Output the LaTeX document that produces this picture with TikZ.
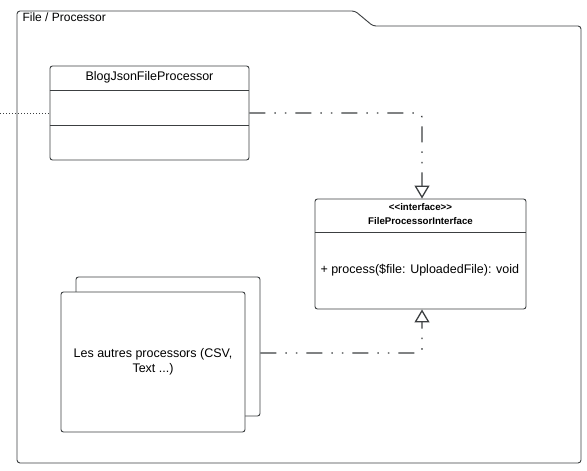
\documentclass[tikz,border=0pt]{standalone}
\usepackage{fontspec}
\setmainfont{Liberation Sans}
\usetikzlibrary{arrows.meta}
\definecolor{umlline}{HTML}{3C3F41}
\tikzset{
  umlbox/.style={draw=umlline, line width=0.9pt, rounded corners=2.5pt, fill=white, inner sep=0pt},
  divider/.style={draw=umlline, line width=0.9pt},
  realize/.style={draw=umlline, line width=1.3pt, rounded corners=4pt,
    dash pattern=on 16pt off 9pt on 1.5pt off 9pt on 1.5pt off 9pt,
    -{Triangle[open, width=15pt, length=13pt, line width=1.3pt, sharp]}},
  assoc/.style={draw=umlline, line width=1pt, dotted},
  txt/.style={font=\fontsize{12.5}{14.5}\selectfont, text=black},
}
\begin{document}
\begin{tikzpicture}[x=1pt, y=-1pt]
  \useasboundingbox (0,0) rectangle (587,471);

  % package frame with its tab
  \draw[umlline, line width=0.9pt, rounded corners=3pt]
    (17,463) -- (17,11) -- (355,11) -- (373,26) -- (581,26) -- (581,463) -- cycle;
  \node[font=\fontsize{12}{14}\selectfont, anchor=west] (pkg) at (19,17.5) {File / Processor};

  % concrete class
  \node[umlbox, minimum width=199pt, minimum height=94pt] (blog) at (149.5,113) {};
  \node[txt] (blogname) at (149.5,77.5) {BlogJsonFileProcessor};
  \draw[divider] (blog.west |- 0,90) -- (blog.east |- 0,90);
  \draw[divider] (blog.west |- 0,125) -- (blog.east |- 0,125);

  % interface (kerns keep << and >> from turning into guillemets)
  \node[umlbox, minimum width=211pt, minimum height=110pt] (iface) at (420.5,254) {};
  \node[font=\bfseries\fontsize{9.7}{13.5}\selectfont, align=center] (ifname) at (420.5,214)
    {<\kern0pt<interface>\kern0pt>\\FileProcessorInterface};
  \draw[divider] (iface.west |- 0,232) -- (iface.east |- 0,232);
  \node[txt, anchor=west] (op) at (317,270) {+ process(\$file: UploadedFile): void};

  % stacked placeholder for the other processors
  \node[umlbox, minimum width=184pt, minimum height=139pt] (back) at (168,346.5) {};
  \node[umlbox, minimum width=184pt, minimum height=140pt, txt, align=center] (front) at (153,362)
    {Les autres processors (CSV,\\Text ...)};

  % incoming association from outside the package
  \coordinate (outside) at (0,113);
  \draw[assoc] (outside) -- (blog.west);

  % realizations
  \draw[realize] (blog.east) -| ([xshift=1.5pt]iface.north);
  \draw[realize] ([yshift=-6.5pt]back.east) -| ([xshift=1.5pt]iface.south);
\end{tikzpicture}
\end{document}
